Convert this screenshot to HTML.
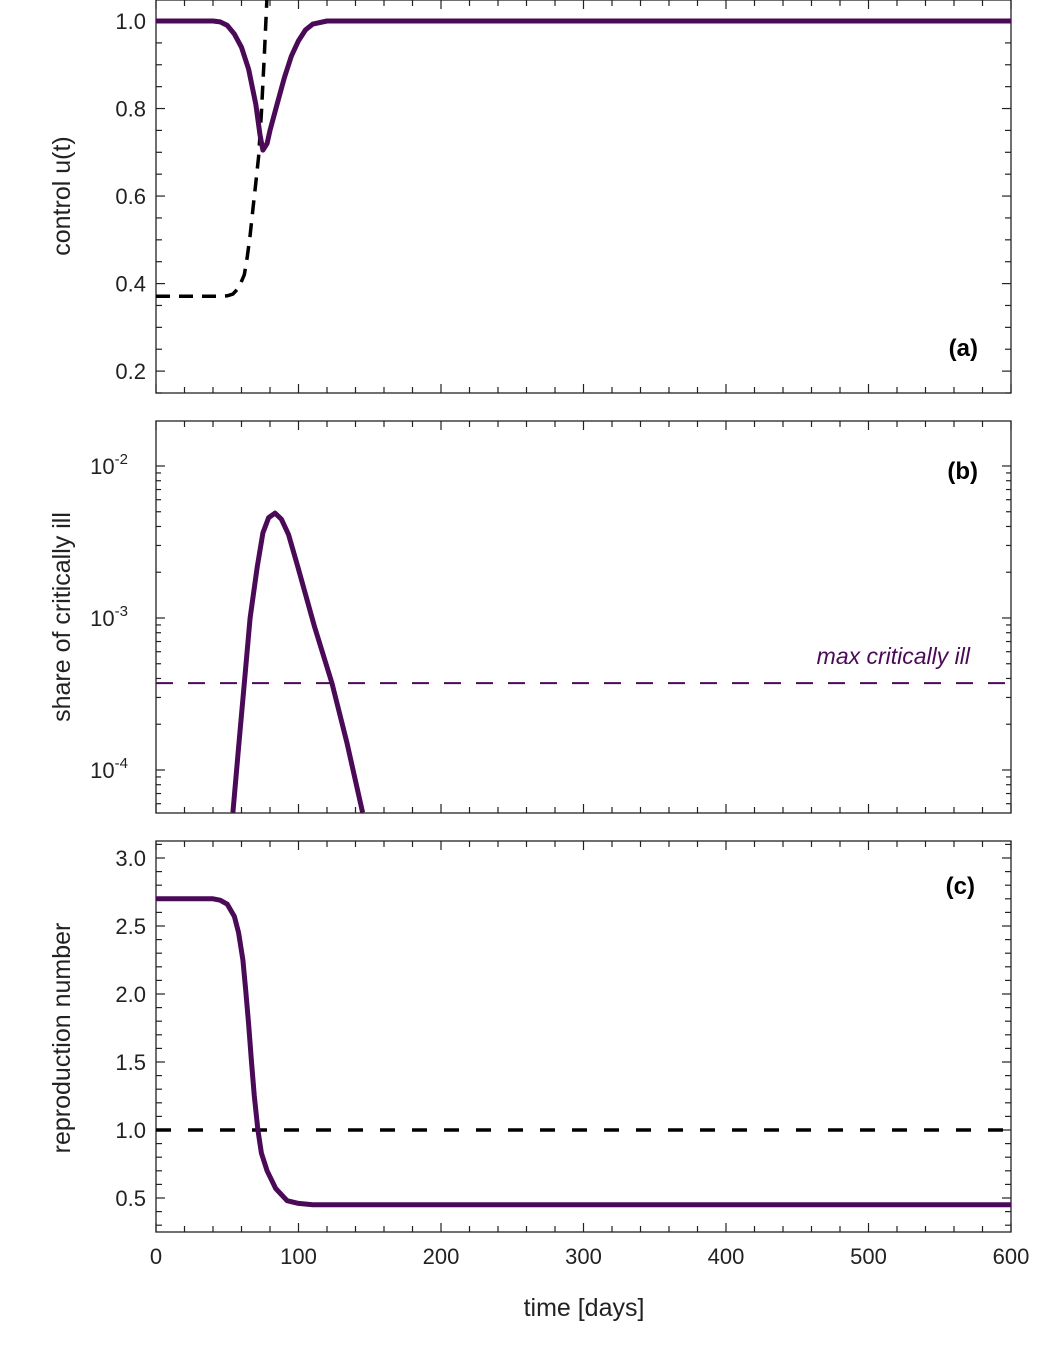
<!DOCTYPE html>
<html><head><meta charset="utf-8"><style>
body{margin:0;background:#fff}
svg{display:block;font-family:"Liberation Sans",sans-serif}
</style></head><body>
<svg id="chart" width="1042" height="1354" viewBox="0 0 1042 1354" xmlns="http://www.w3.org/2000/svg"></svg>
<script>
// ---- data ----
const uSolidT = [0,30,40,45,50,55,60,65,70,73,75,78,80,85,90,95,100,105,110,120,600];
const uSolidV = [1,1,1,0.998,0.99,0.97,0.94,0.89,0.81,0.74,0.705,0.72,0.75,0.81,0.87,0.92,0.955,0.98,0.993,1,1];
const uDashT = [0,45,50,54,58,62,64,66,68,70,72,74,76,78];
const uDashV = [0.371,0.371,0.372,0.376,0.39,0.42,0.46,0.51,0.57,0.63,0.69,0.79,0.92,1.06];
const critT = [54,58,62,66,71,75,79,83.5,88,93,99.6,111,123.5,134,145];
const critLog = [-4.28,-3.85,-3.43,-3.0,-2.665,-2.44,-2.34,-2.31,-2.35,-2.45,-2.665,-3.05,-3.43,-3.82,-4.28];
const maxCrit = 3.73e-4;
const rT = [0,40,45,50,55,58,61,63,65,67,69,71.5,74,78,84,92,100,110,600];
const rV = [2.7,2.7,2.69,2.66,2.57,2.45,2.25,2.02,1.78,1.5,1.25,1.0,0.83,0.7,0.57,0.48,0.46,0.45,0.45];
const rRef = 1.0;
const xTicks = [0,100,200,300,400,500,600];
const aTicks = [0.2,0.4,0.6,0.8,1.0];
const bTicks = [-4,-3,-2];
const cTicks = [0.5,1.0,1.5,2.0,2.5,3.0];

const svg = document.getElementById('chart');
const NS = 'http://www.w3.org/2000/svg';
const PUR = '#4b0a57';
function el(tag, attrs, parent){const e=document.createElementNS(NS,tag);for(const k in attrs)e.setAttribute(k,attrs[k]);(parent||svg).appendChild(e);return e;}
const X0=156,X1=1011;
const x = t => X0 + (t/600)*(X1-X0);
function lin(top,bot,vTop,vBot){return v=>top+(vTop-v)/(vTop-vBot)*(bot-top);}
const ya = lin(0,393,1.048,0.15);
const yb = lin(421,813,-1.704,-4.283);
const yc = lin(841,1232,3.125,0.25);

function frame(top,bot,name){
  const r=el('rect',{x:X0,y:top,width:X1-X0,height:bot-top,fill:'none',stroke:'#222','stroke-width':1.3});
  
  
  for(let t=0;t<=600;t+=20){
    const L=(t%100===0)?9:6;
    el('line',{x1:x(t),x2:x(t),y1:bot,y2:bot-L,stroke:'#222','stroke-width':1.2});
    el('line',{x1:x(t),x2:x(t),y1:top,y2:top+L,stroke:'#222','stroke-width':1.2});
  }
}
function ytick(y,L){
  el('line',{x1:X0,x2:X0+L,y1:y,y2:y,stroke:'#222','stroke-width':1.2});
  el('line',{x1:X1,x2:X1-L,y1:y,y2:y,stroke:'#222','stroke-width':1.2});
}
function label(txt,xx,yy,anchor,name,extra){
  const t=el('text',Object.assign({x:xx,y:yy,'text-anchor':anchor,'font-size':22,fill:'#222'},extra||{}));
  t.textContent=txt;
  
  
  return t;
}
function path(ts,vs,xf,yf,attrs,name){
  let d='';
  ts.forEach((t,i)=>{d+=(i?'L':'M')+xf(t).toFixed(1)+','+yf(vs[i]).toFixed(1);});
  const p=el('path',Object.assign({d:d,fill:'none','stroke-linejoin':'round'},attrs));
  
  
  return p;
}

// clip paths
const defs=el('defs',{});
[['ca',0,393],['cb',421,813],['cc',841,1232]].forEach(c=>{
  const cp=el('clipPath',{id:c[0]},defs);
  el('rect',{x:X0,y:c[1],width:X1-X0,height:c[2]-c[1]},cp);
});

// ---- panel a ----
frame(0,393,'panel-a');
for(let v=0.15;v<=1.0501;v+=0.05){const vv=Math.round(v*100)/100;ytick(ya(vv),Math.abs(vv*10-Math.round(vv*10))<1e-6&&Math.round(vv*10)%2===0?9:6);}
aTicks.forEach(v=>label(v.toFixed(1),146,ya(v)+8,'end','y-tick-a'));
label('control u(t)',70,196,'middle','y-axis-title-a',{transform:'rotate(-90 70 196)','font-size':25});
label('(a)',978,356,'end','panel-label-a',{'font-weight':'bold','font-size':24,fill:'#000'});
const ga=el('g',{'clip-path':'url(#ca)'});
path(uDashT,uDashV,x,ya,{stroke:'#000','stroke-width':3.5,'stroke-dasharray':'14 9'},'u-dashed-line').remove();
ga.appendChild(path(uDashT,uDashV,x,ya,{stroke:'#000','stroke-width':3.5,'stroke-dasharray':'14 9'},'u-dashed-line'));
ga.appendChild(path(uSolidT,uSolidV,x,ya,{stroke:PUR,'stroke-width':5},'u-control-line'));

// ---- panel b ----
frame(421,813,'panel-b');
for(let e=-5;e<=-2;e++){for(let m=1;m<=9;m++){const lv=e+Math.log10(m);const yy=yb(lv);if(yy>=421&&yy<=813)ytick(yy,m===1?9:5);}}
bTicks.forEach(e=>{
  const t=label('10',122,yb(e)+8,'end','y-tick-b');
  const s=el('tspan',{dy:-10,'font-size':15},t);s.textContent=String(e);
  t.setAttribute('x',146-(String(e).length*8)-2);
  t.setAttribute('text-anchor','end');
});
label('share of critically ill',70,617,'middle','y-axis-title-b',{transform:'rotate(-90 70 617)','font-size':25});
label('(b)',978,479,'end','panel-label-b',{'font-weight':'bold','font-size':24,fill:'#000'});
const gb=el('g',{'clip-path':'url(#cb)'});
const ml=el('line',{x1:X0,x2:X1,y1:yb(Math.log10(maxCrit)),y2:yb(Math.log10(maxCrit)),stroke:PUR,'stroke-width':2,'stroke-dasharray':'17 15'},gb);


gb.appendChild(path(critT,critLog,x,yb,{stroke:PUR,'stroke-width':5},'critically-ill-line'));
label('max critically ill',970,664,'end','max-critically-ill-label',{'font-style':'italic',fill:PUR,'font-size':23});

// ---- panel c ----
frame(841,1232,'panel-c');
for(let v=0.3;v<=3.11;v+=0.1){const vv=Math.round(v*10)/10;ytick(yc(vv),Math.round(vv*10)%5===0?9:6);}
cTicks.forEach(v=>label(v.toFixed(1),146,yc(v)+8,'end','y-tick-c'));
label('reproduction number',70,1038,'middle','y-axis-title-c',{transform:'rotate(-90 70 1038)','font-size':25});
label('(c)',975,894,'end','panel-label-c',{'font-weight':'bold','font-size':24,fill:'#000'});
const gc=el('g',{'clip-path':'url(#cc)'});
const rl=el('line',{x1:X0,x2:X1,y1:yc(rRef),y2:yc(rRef),stroke:'#000','stroke-width':3.5,'stroke-dasharray':'15 17'},gc);


gc.appendChild(path(rT,rV,x,yc,{stroke:PUR,'stroke-width':5},'reproduction-line'));

xTicks.forEach(t=>label(String(t),x(t),1264,'middle','x-tick'));
label('time [days]',584,1316,'middle','x-axis-title',{'font-size':25});
</script>
</body></html>
